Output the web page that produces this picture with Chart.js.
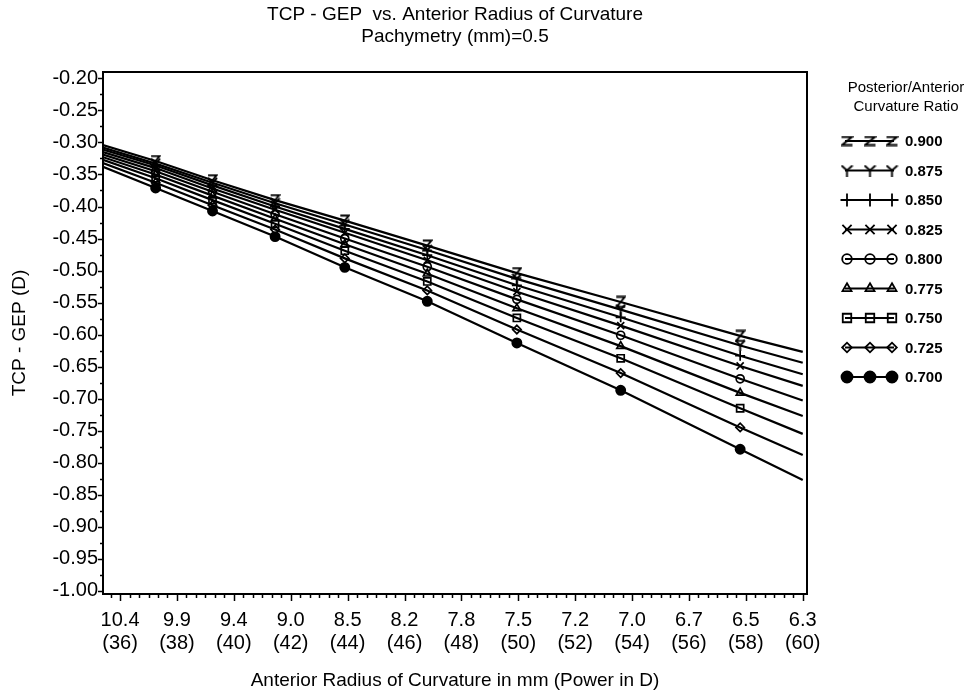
<!DOCTYPE html>
<html>
<head>
<meta charset="utf-8">
<script src="https://cdn.jsdelivr.net/npm/chart.js@4"></script>
<style>
  html, body { margin: 0; padding: 0; background: #fff; }
  canvas { display: block; }
</style>
</head>
<body>
<canvas id="chart" width="970" height="700"></canvas>
<script>
// Axis tick labels: anterior radius (mm) with corneal power (D) beneath
const radiusLabels = ['10.4', '9.9', '9.4', '9.0', '8.5', '8.2', '7.8', '7.5', '7.2', '7.0', '6.7', '6.5', '6.3'];
const powerTicks = [36, 38, 40, 42, 44, 46, 48, 50, 52, 54, 56, 58, 60];
const yTicks = [-1.00, -0.95, -0.90, -0.85, -0.80, -0.75, -0.70, -0.65, -0.60,
                -0.55, -0.50, -0.45, -0.40, -0.35, -0.30, -0.25, -0.20];

// Posterior/anterior curvature ratios (one curve each)
const ratios = ['0.900', '0.875', '0.850', '0.825', '0.800', '0.775', '0.750', '0.725', '0.700'];

// Power (D) of each sample; first and last are the curve ends
const powers = [35.4, 37.25, 39.25, 41.45, 43.9, 46.8, 49.95, 53.6, 57.8, 60.0];

// TCP - GEP (D) for each ratio
const r900 = [-0.304, -0.329, -0.359, -0.390, -0.422, -0.461, -0.504, -0.549, -0.602, -0.627];
const r875 = [-0.308, -0.333, -0.363, -0.395, -0.428, -0.468, -0.513, -0.561, -0.617, -0.644];
const r850 = [-0.311, -0.336, -0.367, -0.400, -0.435, -0.476, -0.523, -0.573, -0.633, -0.662];
const r825 = [-0.315, -0.340, -0.372, -0.405, -0.441, -0.484, -0.533, -0.586, -0.649, -0.680];
const r800 = [-0.319, -0.345, -0.377, -0.412, -0.450, -0.494, -0.545, -0.601, -0.669, -0.703];
const r775 = [-0.323, -0.350, -0.383, -0.419, -0.459, -0.505, -0.559, -0.618, -0.691, -0.727];
const r750 = [-0.327, -0.356, -0.390, -0.427, -0.469, -0.517, -0.574, -0.637, -0.715, -0.755];
const r725 = [-0.332, -0.363, -0.398, -0.436, -0.481, -0.531, -0.592, -0.660, -0.745, -0.788];
const r700 = [-0.338, -0.371, -0.407, -0.447, -0.495, -0.548, -0.613, -0.687, -0.779, -0.827];
const seriesValues = [r900, r875, r850, r825, r800, r775, r750, r725, r700];

// Letter-like symbols drawn into small canvases
function glyph(w, h, draw) {
  const c = document.createElement('canvas');
  c.width = w; c.height = h;
  const g = c.getContext('2d');
  g.strokeStyle = '#000';
  g.lineWidth = 1.9;
  g.lineCap = 'butt';
  g.lineJoin = 'miter';
  g.beginPath();
  draw(g, w, h);
  g.stroke();
  return c;
}
const zShape = (g, w, h) => { g.moveTo(1, 1.5); g.lineTo(w - 1.5, 1.5); g.lineTo(1.5, h - 1.5); g.lineTo(w - 1, h - 1.5); };
const yShape = (g, w, h) => { g.moveTo(1, 1); g.lineTo(w / 2, h / 2); g.lineTo(w - 1, 1); g.moveTo(w / 2, h / 2); g.lineTo(w / 2, h); };
const zMark = glyph(11, 13, zShape);
const yMark = glyph(11, 12, yShape);
const zMarkKey = glyph(13, 11, zShape);
const yMarkKey = glyph(13, 12, yShape);

const CLEAR = 'rgba(0,0,0,0)';
const markers = [
  { style: zMark, key: zMarkKey, radius: 6, keyRadius: 6, fill: CLEAR },
  { style: yMark, key: yMarkKey, radius: 6, keyRadius: 6, fill: CLEAR },
  { style: 'cross', radius: 5, keyRadius: 6.5, fill: CLEAR },
  { style: 'crossRot', radius: 5, keyRadius: 6.5, fill: CLEAR },
  { style: 'circle', radius: 4, keyRadius: 4.8, fill: CLEAR },
  { style: 'triangle', radius: 4.5, keyRadius: 5.2, fill: CLEAR },
  { style: 'rect', radius: 5, keyRadius: 6, fill: CLEAR },
  { style: 'rectRot', radius: 4.2, keyRadius: 4.8, fill: CLEAR },
  { style: 'circle', radius: 4.6, keyRadius: 5.5, fill: '#000' }
];

const datasets = ratios.map((label, i) => ({
  label: label,
  data: powers.map((p, j) => ({ x: p, y: seriesValues[i][j] })),
  borderColor: '#000',
  borderWidth: 2.2,
  pointStyle: markers[i].style,
  pointRadius: powers.map((p, j) => (j === 0 || j === powers.length - 1) ? 0 : markers[i].radius),
  pointBorderColor: '#000',
  pointBorderWidth: 1.7,
  pointBackgroundColor: markers[i].fill,
  tension: 0,
  fill: false
}));

const FONT = "'Liberation Sans', Arial, sans-serif";

// Frame, outward tick marks, titles and the ratio legend
const decorations = {
  id: 'decorations',
  afterDatasetsDraw(chart) {
    const { ctx, chartArea: a, scales: { x, y } } = chart;
    ctx.save();
    ctx.strokeStyle = '#000';
    ctx.lineWidth = 2;
    ctx.strokeRect(a.left, a.top, a.right - a.left, a.bottom - a.top);

    ctx.lineWidth = 1.5;
    ctx.beginPath();
    for (let i = 0; i < yTicks.length; i++) {
      const py = Math.round(y.getPixelForValue(yTicks[i])) + 0.5;
      ctx.moveTo(a.left, py); ctx.lineTo(a.left - 5, py);
      if (i < yTicks.length - 1) {
        const my = Math.round(y.getPixelForValue((yTicks[i] + yTicks[i + 1]) / 2)) + 0.5;
        ctx.moveTo(a.left, my); ctx.lineTo(a.left - 3, my);
      }
    }
    for (let i = 0; i < powerTicks.length; i++) {
      const px = Math.round(x.getPixelForValue(powerTicks[i])) + 0.5;
      ctx.moveTo(px, a.bottom); ctx.lineTo(px, a.bottom + 7);
    }
    for (let v = x.min; v <= x.max; v += 1 / 3) {
      const k = Math.round(v * 3);
      if (k % 6 === 0) continue;
      const px = Math.round(x.getPixelForValue(k / 3)) + 0.5;
      if (px < a.left || px > a.right) continue;
      ctx.moveTo(px, a.bottom); ctx.lineTo(px, a.bottom + 4);
    }
    ctx.stroke();
    ctx.restore();
  },
  afterDraw(chart) {
    const { ctx, chartArea: a } = chart;
    ctx.save();
    ctx.fillStyle = '#000';
    ctx.textAlign = 'center';
    ctx.textBaseline = 'middle';
    const cx = (a.left + a.right) / 2;
    ctx.font = '19px ' + FONT;
    ctx.fillText('TCP - GEP  vs. Anterior Radius of Curvature', cx, 15);
    ctx.fillText('Pachymetry (mm)=0.5', cx, 37);

    // legend
    ctx.font = '15px ' + FONT;
    ctx.fillText('Posterior/Anterior', 906, 88);
    ctx.fillText('Curvature Ratio', 906, 107);
    ctx.textAlign = 'left';
    ctx.font = 'bold 15px ' + FONT;
    chart.data.datasets.forEach((ds, i) => {
      const ly = 141 + i * 29.5;
      ctx.strokeStyle = '#000';
      ctx.lineWidth = 2.2;
      ctx.beginPath();
      ctx.moveTo(845, ly); ctx.lineTo(894, ly);
      ctx.stroke();
      ctx.lineWidth = 1.8;
      ctx.fillStyle = markers[i].fill;
      [847, 870, 892].forEach(lx => {
        Chart.helpers.drawPoint(ctx, {
          pointStyle: markers[i].key || markers[i].style, radius: markers[i].keyRadius,
          rotation: 0, borderWidth: 1.8
        }, lx, ly);
      });
      ctx.fillStyle = '#000';
      ctx.fillText(ds.label, 905, ly + 1);
    });
    ctx.restore();
  }
};

new Chart(document.getElementById('chart'), {
  type: 'line',
  data: { datasets: datasets },
  options: {
    responsive: false,
    animation: false,
    devicePixelRatio: 1,
    layout: { padding: { top: 72, right: 163, left: 0, bottom: 0 } },
    plugins: { legend: { display: false }, tooltip: { enabled: false }, title: { display: false } },
    scales: {
      x: {
        type: 'linear',
        min: 35.4,
        max: 60.15,
        grid: { display: false, drawTicks: false },
        border: { display: false },
        afterBuildTicks: scale => { scale.ticks = powerTicks.map(v => ({ value: v })); },
        afterFit: scale => { scale.height = 106; },
        ticks: {
          padding: 15,
          color: '#000',
          maxRotation: 0,
          autoSkip: false,
          font: { family: FONT, size: 20, lineHeight: 1.15 },
          callback: v => {
            const i = powerTicks.indexOf(v);
            return [radiusLabels[i], '(' + v + ')'];
          }
        },
        title: {
          display: true,
          text: 'Anterior Radius of Curvature in mm (Power in D)',
          color: '#000',
          font: { family: FONT, size: 19, lineHeight: 1.2 },
          padding: { top: 0, bottom: 8 }
        }
      },
      y: {
        type: 'linear',
        min: -1.005,
        max: -0.19,
        grid: { display: false, drawTicks: false },
        border: { display: false },
        afterBuildTicks: scale => { scale.ticks = yTicks.map(v => ({ value: v })); },
        afterFit: scale => { scale.width = 103; },
        ticks: {
          padding: 5,
          color: '#000',
          autoSkip: false,
          font: { family: FONT, size: 20 },
          callback: v => v.toFixed(2)
        },
        title: {
          display: true,
          text: 'TCP - GEP (D)',
          color: '#000',
          font: { family: FONT, size: 19, lineHeight: 1.2 },
          padding: { top: 8, bottom: 0 }
        }
      }
    }
  },
  plugins: [decorations]
});
</script>
</body>
</html>
